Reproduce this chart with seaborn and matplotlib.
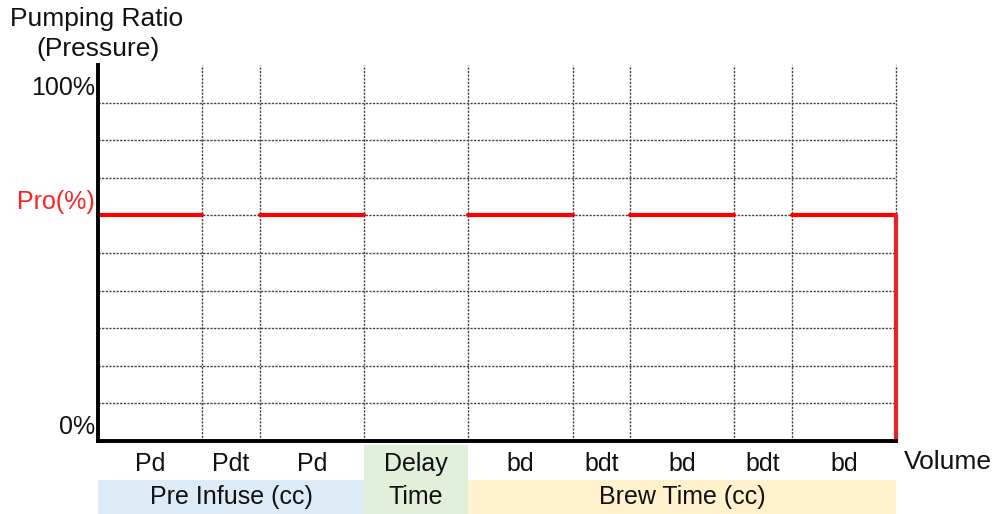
import matplotlib.pyplot as plt
import numpy as np
import pandas as pd
import seaborn as sns

# 数据
seg_labels = ["Pd", "Pdt", "Pd", "Delay", "bd", "bdt", "bd", "bdt", "bd"]
seg_widths = [1.0, 0.55, 1.0, 1.0, 1.0, 0.55, 1.0, 0.55, 1.0]
pump_level = [60, np.nan, 60, np.nan, 60, np.nan, 60, np.nan, 60]  # 水泵比例，NaN 表示停止
groups = ["Pre Infuse (cc)", "Time", "Brew Time (cc)"]
group_spans = [(0, 3), (3, 4), (4, 9)]  # 分组对应的段落范围
group_colors = ["#DDEBF7", "#E2EFDA", "#FFF2CC"]
y_ticks = [10, 20, 30, 40, 50, 60, 70, 80, 90]

sns.set_style("white")
plt.rcParams["font.family"] = ["Liberation Sans", "DejaVu Sans"]

edges = np.concatenate([[0], np.cumsum(seg_widths)])
total = edges[-1]

# 构建红线数据
rows = []
for i, lv in enumerate(pump_level):
    if not np.isnan(lv):
        rows.append({"x": edges[i], "y": lv, "seg": i})
        rows.append({"x": edges[i + 1], "y": lv, "seg": i})
df = pd.DataFrame(rows)
df_drop = pd.DataFrame({"x": [total, total], "y": [pump_level[-1], 0], "seg": [0, 0]})

fig = plt.figure(figsize=(9.96, 5.14), dpi=100)
ax = fig.add_axes([98 / 996, 73 / 514, 798 / 996, 376 / 514])

ax.set_xlim(0, total)
ax.set_ylim(0, 100)
ax.set_xticks(edges[1:])
ax.set_yticks(y_ticks)
ax.grid(True, color="#444444", linestyle=(0, (1.6, 1.0)), linewidth=1.0)
for gl in ax.get_xgridlines():
    gl.set_clip_on(False)
ax.tick_params(length=0, labelbottom=False, labelleft=False)

sns.lineplot(data=df, x="x", y="y", units="seg", estimator=None, sort=False,
             color="#ff0000", linewidth=3.0, ax=ax)
sns.lineplot(data=df_drop, x="x", y="y", estimator=None, sort=False,
             color="#e8202a", linewidth=3.0, ax=ax)
for line in ax.lines:
    line.set_clip_on(False)
ax.set_xlabel("")
ax.set_ylabel("")

sns.despine(ax=ax, top=True, right=True)
for side in ["left", "bottom"]:
    ax.spines[side].set_linewidth(2.8)
    ax.spines[side].set_color("black")
    ax.spines[side].set_zorder(5)

trans = ax.get_xaxis_transform()
fs = 18
txt = "#111111"

# 底部色块
for (a, b), c in zip(group_spans, group_colors):
    top = -0.0106 if c == "#E2EFDA" else -0.1037
    ax.add_patch(plt.Rectangle((edges[a], -0.194), edges[b] - edges[a], top + 0.194,
                               transform=trans, facecolor=c, edgecolor="none",
                               clip_on=False, zorder=0))
for (a, b), g in zip(group_spans, groups):
    ax.text((edges[a] + edges[b]) / 2, -0.150, g, transform=trans, ha="center",
            va="center", fontsize=fs, color=txt)

# 段落标签
for i, lab in enumerate(seg_labels):
    ax.text((edges[i] + edges[i + 1]) / 2, -0.062, lab, transform=trans,
            ha="center", va="center", fontsize=fs, color=txt)

ax.text(total + 0.08, -0.056, "Volume", transform=trans, ha="left", va="center",
        fontsize=fs + 1, color=txt)

# 纵轴文字
ax.text(-0.03, 93.8, "100%", ha="right", va="center", fontsize=fs, color=txt)
ax.text(-0.03, 63.6, "Pro(%)", ha="right", va="center", fontsize=fs, color="#ff2020")
ax.text(-0.03, 3.6, "0%", ha="right", va="center", fontsize=fs, color=txt)
fig.text(97 / 996, 1 - 19 / 514, "Pumping Ratio", ha="center", va="center",
         fontsize=fs + 1, color=txt)
fig.text(98 / 996, 1 - 49 / 514, "(Pressure)", ha="center", va="center",
         fontsize=fs + 1, color=txt)

fig.savefig("out.png", dpi=100)
